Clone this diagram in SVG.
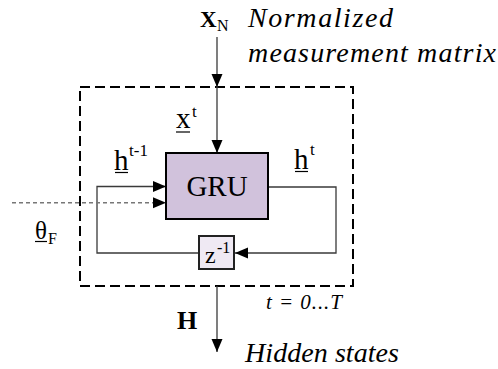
<svg xmlns="http://www.w3.org/2000/svg" width="498" height="369" viewBox="0 0 498 369" font-family="Liberation Serif, serif">
  <style>
    text { fill: #000; }
    .it { font-style: italic; }
    .bold { font-weight: bold; }
    .wire { fill: none; stroke: #3a3a3a; stroke-width: 1.3; }
    .ul { stroke: #000; stroke-width: 1.2; }
  </style>
  <defs>
    <marker id="arrow" markerUnits="userSpaceOnUse" markerWidth="14" markerHeight="12" refX="13" refY="6" orient="auto">
      <path d="M0,0.5 L13,6 L0,11.5 Z" fill="#000"/>
    </marker>
  </defs>

  <!-- loop boundary (unrolled over time steps) -->
  <rect id="loop-frame" x="80" y="87" width="273" height="199" fill="none" stroke="#000" stroke-width="2" stroke-dasharray="10 5"/>

  <g id="connectors">
    <line class="wire" x1="217" y1="37" x2="217" y2="87" marker-end="url(#arrow)"/>
    <line class="wire" x1="217" y1="87" x2="217" y2="153" marker-end="url(#arrow)"/>
    <polyline class="wire" points="268,187 336,187 336,253 235,253" marker-end="url(#arrow)"/>
    <polyline class="wire" points="199,253 97,253 97,186.5 166,186.5" marker-end="url(#arrow)"/>
    <line x1="12" y1="202.7" x2="166" y2="202.7" stroke="#777" stroke-width="1.5" stroke-dasharray="4 3" marker-end="url(#arrow)"/>
    <line class="wire" x1="217" y1="286" x2="217" y2="352" marker-end="url(#arrow)"/>
  </g>

  <g id="gru">
    <rect x="166" y="153" width="102" height="66" fill="#d1c2dc" stroke="#000" stroke-width="2"/>
    <text x="217" y="196" font-size="29" text-anchor="middle">GRU</text>
  </g>

  <g id="delay">
    <rect x="199" y="236" width="35" height="33" fill="#efe9f3" stroke="#222" stroke-width="2"/>
    <text x="205" y="263" font-size="24">z</text>
    <text x="217" y="253" font-size="16">-1</text>
  </g>

  <g id="input-label">
    <text class="bold" x="200" y="27" font-size="23">X</text>
    <text x="217" y="31" font-size="16">N</text>
    <text class="it" x="248" y="27" font-size="28" textLength="145" lengthAdjust="spacing">Normalized</text>
    <text class="it" x="248" y="62" font-size="28" textLength="248" lengthAdjust="spacing">measurement matrix</text>
  </g>

  <g id="xt-label">
    <text x="176" y="128" font-size="29">x</text>
    <line class="ul" x1="176" y1="132" x2="190" y2="132"/>
    <text x="192" y="117" font-size="17">t</text>
  </g>

  <g id="hprev-label">
    <text x="114" y="170" font-size="29">h</text>
    <line class="ul" x1="115" y1="172.5" x2="128" y2="172.5"/>
    <text x="129" y="156" font-size="17">t-1</text>
  </g>

  <g id="ht-label">
    <text x="294" y="169" font-size="29">h</text>
    <line class="ul" x1="295" y1="171.5" x2="308" y2="171.5"/>
    <text x="310" y="155" font-size="17">t</text>
  </g>

  <g id="theta-label">
    <text x="35" y="239" font-size="25">θ</text>
    <line class="ul" x1="35" y1="241.5" x2="47" y2="241.5"/>
    <text x="48" y="244" font-size="16">F</text>
  </g>

  <g id="time-label">
    <text class="it" x="266" y="309" font-size="21" textLength="76" lengthAdjust="spacing">t = 0...T</text>
  </g>

  <g id="output-label">
    <text class="bold" x="177" y="329" font-size="26">H</text>
    <text class="it" x="245" y="362" font-size="28" textLength="154" lengthAdjust="spacing">Hidden states</text>
  </g>
</svg>
